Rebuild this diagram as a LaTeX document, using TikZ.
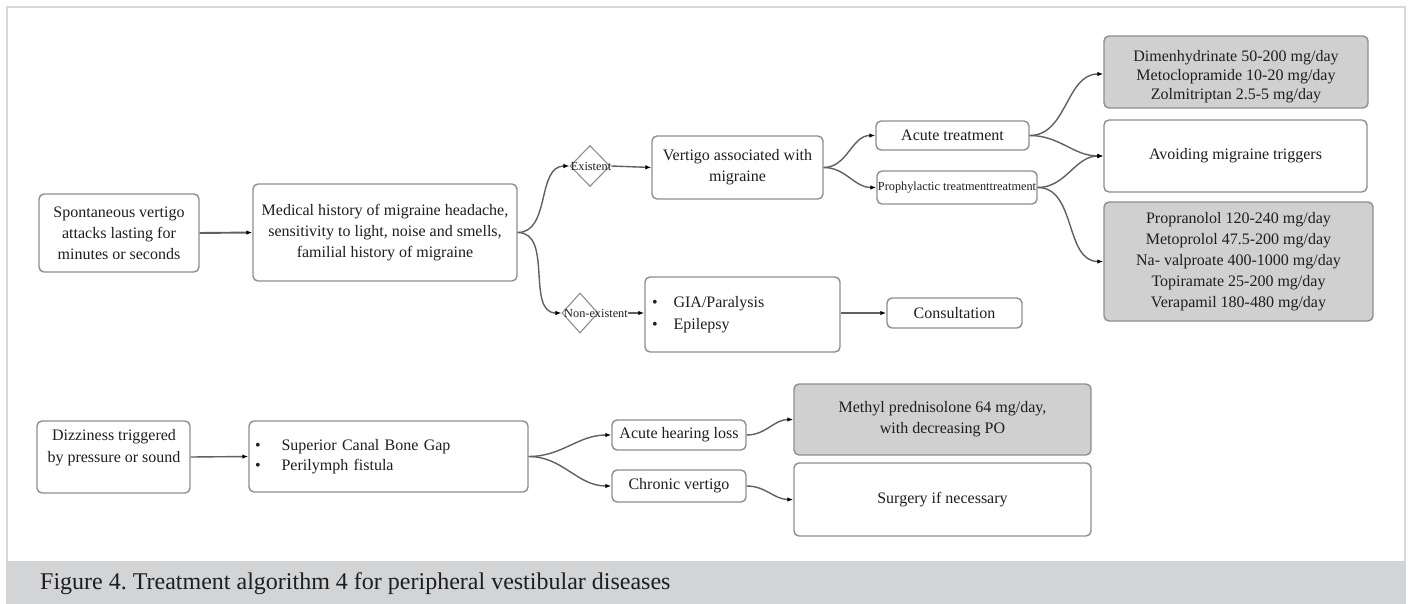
\documentclass[tikz,border=0pt]{standalone}
\usepackage{fontspec}
\setmainfont{Liberation Serif}
\usetikzlibrary{shapes.geometric,arrows.meta}
\definecolor{boxline}{HTML}{8E8E8E}
\definecolor{boxfill}{HTML}{D0D0D0}
\definecolor{conn}{HTML}{606060}
\definecolor{band}{HTML}{D3D4D6}
\definecolor{framec}{HTML}{D8D8D8}
\definecolor{txt}{HTML}{1E1E1E}
\frenchspacing
\begin{document}
\begin{tikzpicture}[x=1pt,y=-1pt,
  box/.style={draw=boxline, line width=1.4pt, rounded corners=5pt, fill=white,
    inner sep=0pt, align=center, text=txt, font=\fontsize{16}{21}\selectfont},
  gbox/.style={box, fill=boxfill},
  diam/.style={draw=boxline, line width=1.1pt, diamond, inner sep=0pt, fill=white},
  smalltxt/.style={inner sep=0pt, text=txt, font=\fontsize{12.3}{14}\selectfont},
  plaintxt/.style={inner sep=0pt, align=center, text=txt, font=\fontsize{16}{22}\selectfont},
  conn/.style={draw=conn, line width=1.4pt, -{Latex[length=6pt,width=4.5pt,color=black]}},
  thickconn/.style={conn, line width=1.9pt}
]
\useasboundingbox (0,0) rectangle (1408,604);
% frame and caption band
\draw[framec, line width=2pt] (7,561) -- (7,7) -- (1405,7) -- (1405,561);
\fill[band] (6,561) rectangle (1406,604);
\node[anchor=base west, inner sep=0pt, text=txt, font=\fontsize{24}{27}\selectfont] (cap) at (40,589)
  {Figure 4. Treatment algorithm 4 for peripheral vestibular diseases};

% upper algorithm
\node[box, minimum width=160pt, minimum height=78pt] (spont) at (119,233)
  {Spontaneous vertigo\\attacks lasting for\\minutes or seconds};
\node[box, minimum width=264pt, minimum height=97pt] (med) at (385,232.5)
  {Medical history of migraine headache,\\sensitivity to light, noise and smells,\\familial history of migraine};
\node[diam, minimum width=40pt, minimum height=41pt] (exd) at (590,166) {};
\node[smalltxt] (ext) at (591,166) {Existent};
\node[diam, minimum width=36pt, minimum height=40pt] (nexd) at (580,313) {};
\node[smalltxt] (next) at (596,313) {Non-existent};
\node[box, minimum width=171pt, minimum height=63pt] (vert) at (737.5,167.5)
  {Vertigo associated with\\migraine};
\node[box, minimum width=153pt, minimum height=29pt] (acute) at (952.5,135.5) {Acute treatment};
\node[box, minimum width=160pt, minimum height=33pt, font=\fontsize{12.3}{14}\selectfont] (proph) at (957,187.5)
  {Prophylactic treatmenttreatment};
\node[gbox, minimum width=264pt, minimum height=72pt, font=\fontsize{16}{18.8}\selectfont] (dimen) at (1236,72)
  {\raisebox{-5pt}[\height][\depth]{\shortstack{Dimenhydrinate 50-200 mg/day\\[1.5pt]Metoclopramide 10-20 mg/day\\[1.5pt]Zolmitriptan 2.5-5 mg/day}}};
\node[box, minimum width=263pt, minimum height=72pt] (avoid) at (1235.5,156) {Avoiding migraine triggers};
\node[gbox, minimum width=269pt, minimum height=119pt] (propr) at (1238.5,261.5)
  {Propranolol 120-240 mg/day\\Metoprolol 47.5-200 mg/day\\Na- valproate 400-1000 mg/day\\Topiramate 25-200 mg/day\\Verapamil 180-480 mg/day};
\node[box, minimum width=195pt, minimum height=75pt, align=left, text width=181pt, inner xsep=7pt,
  font=\fontsize{16}{22}\selectfont] (gia) at (742.5,314.5)
  {\textbullet\hspace{16pt}GIA/Paralysis\\\textbullet\hspace{16pt}Epilepsy};
\node[box, minimum width=135pt, minimum height=30pt] (consult) at (954.5,313) {Consultation};

% lower algorithm
\node[box, minimum width=153pt, minimum height=72pt] (dizzy) at (113.5,457) {};
\node[plaintxt] (dizzyt) at (114,448) {Dizziness triggered\\by pressure or sound};
\node[box, minimum width=279pt, minimum height=71pt, align=left, text width=267pt, inner xsep=6pt,
  font=\fontsize{16}{20}\selectfont] (sup) at (388.5,456.5)
  {\textbullet\hspace{21pt}Superior Canal Bone Gap\\\textbullet\hspace{21pt}Perilymph fistula};
\node[box, minimum width=134pt, minimum height=30pt] (ahl) at (679,435) {Acute hearing loss};
\node[box, minimum width=134pt, minimum height=32pt] (chron) at (679,486) {Chronic vertigo};
\node[gbox, minimum width=297pt, minimum height=71pt] (methyl) at (942.5,419.5)
  {Methyl prednisolone 64 mg/day,\\with decreasing PO};
\node[box, minimum width=297pt, minimum height=73pt] (surg) at (942.5,499.5) {Surgery if necessary};

% connectors
\draw[thickconn] (spont.east) -- (med.west);
\draw[conn] (med.east) to[out=0,in=180] (exd.west);
\draw[conn] (med.east) to[out=0,in=180] (nexd.west);
\draw[conn] (ext.east) -- (vert.west);
\draw[conn] (next.east) -- (gia.west |- next.east);
\draw[conn] (vert.east) to[out=0,in=180] (acute.west);
\draw[conn] (vert.east) to[out=0,in=180] (proph.west);
\draw[conn] (acute.east) to[out=0,in=180] ([yshift=-2pt]dimen.west);
\draw[conn] (acute.east) to[out=0,in=180] (avoid.west);
\draw[conn] (proph.east) to[out=0,in=180] (avoid.west);
\draw[conn] (proph.east) to[out=0,in=180] (propr.west);
\draw[thickconn] (gia.east |- consult.west) -- (consult.west);
\draw[conn] (dizzy.east) -- (sup.west);
\draw[conn] (sup.east) to[out=0,in=180] (ahl.west);
\draw[conn] (sup.east) to[out=0,in=180] (chron.west);
\draw[conn] (ahl.east) to[out=0,in=180] (methyl.west);
\draw[conn] (chron.east) to[out=0,in=180] (surg.west);
\end{tikzpicture}
\end{document}
